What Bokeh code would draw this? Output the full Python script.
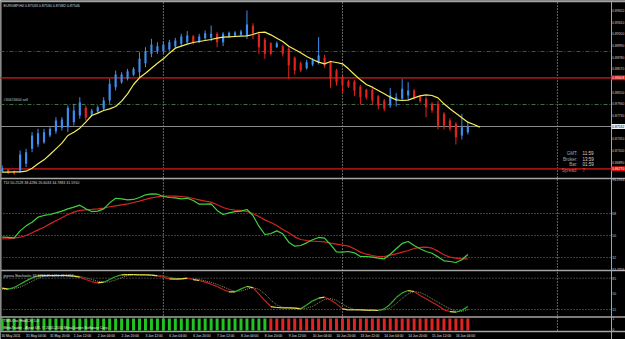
from bokeh.plotting import figure
from bokeh.models import Range1d, ColumnDataSource
from bokeh.core.properties import value
from bokeh.embed import file_html
from bokeh.resources import INLINE

# ---------------- data ----------------
open_ = [0.86728, 0.86758, 0.86722, 0.86740, 0.86860, 0.87130, 0.87208, 0.87250, 0.87370, 0.87448,
         0.87508, 0.87520, 0.87610, 0.87730, 0.87868, 0.87742, 0.87802, 0.87850, 0.88000, 0.88240,
         0.88330, 0.88390, 0.88462, 0.88510, 0.88672, 0.88840, 0.88888, 0.88888, 0.88918, 0.88972,
         0.89020, 0.89050, 0.89158, 0.89062, 0.89122, 0.89128, 0.89200, 0.89050, 0.89152, 0.89164,
         0.89182, 0.89170, 0.89344, 0.89200, 0.89092, 0.89032, 0.88960, 0.88972, 0.88930, 0.88768,
         0.88672, 0.88582, 0.88648, 0.88678, 0.88768, 0.88690, 0.88540, 0.88420, 0.88348, 0.88342,
         0.88252, 0.88192, 0.88192, 0.88078, 0.88000, 0.87910, 0.88000, 0.88030, 0.88090, 0.88180,
         0.88072, 0.88030, 0.87940, 0.87940, 0.87760, 0.87640, 0.87580, 0.87370, 0.87430]
high = [0.86830, 0.86764, 0.86740, 0.87100, 0.87130, 0.87430, 0.87490, 0.87490, 0.87520, 0.87700,
        0.87700, 0.87910, 0.87940, 0.88060, 0.87910, 0.87850, 0.87910, 0.88060, 0.88390, 0.88540,
        0.88510, 0.88570, 0.88600, 0.88870, 0.88960, 0.89110, 0.89050, 0.89068, 0.89092, 0.89128,
        0.89200, 0.89248, 0.89182, 0.89200, 0.89260, 0.89350, 0.89230, 0.89230, 0.89242, 0.89248,
        0.89272, 0.89620, 0.89392, 0.89242, 0.89128, 0.89050, 0.89062, 0.89002, 0.88972, 0.88792,
        0.88702, 0.88732, 0.88762, 0.89140, 0.88822, 0.88720, 0.88570, 0.88450, 0.88372, 0.88372,
        0.88282, 0.88210, 0.88222, 0.88102, 0.88030, 0.88222, 0.88132, 0.88390, 0.88330, 0.88210,
        0.88102, 0.88072, 0.87970, 0.88000, 0.87790, 0.87682, 0.87610, 0.87760, 0.87610]
low = [0.86704, 0.86674, 0.86662, 0.86698, 0.86800, 0.87070, 0.87160, 0.87220, 0.87340, 0.87400,
       0.87460, 0.87430, 0.87550, 0.87670, 0.87640, 0.87718, 0.87778, 0.87820, 0.87940, 0.88180,
       0.88300, 0.88360, 0.88438, 0.88420, 0.88600, 0.88780, 0.88840, 0.88840, 0.88888, 0.88942,
       0.88972, 0.89020, 0.89008, 0.89032, 0.89092, 0.89068, 0.88960, 0.88978, 0.89128, 0.89140,
       0.89164, 0.89110, 0.89104, 0.88840, 0.88750, 0.88810, 0.88948, 0.88792, 0.88390, 0.88468,
       0.88510, 0.88558, 0.88618, 0.88648, 0.88588, 0.88228, 0.88270, 0.88138, 0.88228, 0.88078,
       0.87928, 0.88018, 0.87928, 0.87838, 0.87808, 0.87868, 0.87892, 0.88000, 0.88018, 0.88018,
       0.87958, 0.87700, 0.87778, 0.87478, 0.87478, 0.87448, 0.87208, 0.87298, 0.87388]
close = [0.86782, 0.86704, 0.86686, 0.87028, 0.87070, 0.87370, 0.87412, 0.87430, 0.87490, 0.87640,
         0.87658, 0.87868, 0.87820, 0.87970, 0.87688, 0.87820, 0.87880, 0.88000, 0.88300, 0.88468,
         0.88468, 0.88528, 0.88570, 0.88750, 0.88888, 0.89008, 0.88978, 0.89002, 0.89050, 0.89080,
         0.89152, 0.89170, 0.89038, 0.89152, 0.89212, 0.89200, 0.89050, 0.89200, 0.89218, 0.89224,
         0.89242, 0.89368, 0.89200, 0.88960, 0.88840, 0.88840, 0.89032, 0.88840, 0.88630, 0.88540,
         0.88540, 0.88690, 0.88720, 0.88810, 0.88630, 0.88390, 0.88330, 0.88270, 0.88252, 0.88180,
         0.88060, 0.88060, 0.88000, 0.87910, 0.87850, 0.88090, 0.88060, 0.88210, 0.88180, 0.88060,
         0.87988, 0.87880, 0.87820, 0.87550, 0.87550, 0.87490, 0.87340, 0.87520, 0.87532]
# moving average (shifted two bars forward)
ma = [0.86710, 0.86710, 0.86716, 0.86716, 0.86728, 0.86782, 0.86860, 0.86932, 0.87028, 0.87130,
      0.87232, 0.87370, 0.87430, 0.87502, 0.87610, 0.87730, 0.87772, 0.87820, 0.87850, 0.87892,
      0.87988, 0.88120, 0.88288, 0.88408, 0.88492, 0.88582, 0.88672, 0.88750, 0.88852, 0.88942,
      0.88978, 0.89014, 0.89044, 0.89062, 0.89080, 0.89098, 0.89122, 0.89140, 0.89146, 0.89152,
      0.89158, 0.89164, 0.89188, 0.89224, 0.89230, 0.89182, 0.89122, 0.89062, 0.88978, 0.88918,
      0.88858, 0.88792, 0.88738, 0.88690, 0.88660, 0.88702, 0.88684, 0.88660, 0.88570, 0.88468,
      0.88372, 0.88288, 0.88240, 0.88180, 0.88120, 0.88060, 0.88012, 0.88000, 0.88006, 0.88048,
      0.88084, 0.88102, 0.88090, 0.88048, 0.87940, 0.87850, 0.87772, 0.87688, 0.87610, 0.87568,
      0.87520]
tdi_green = [48.6, 48.4, 48.1, 53.8, 57.9, 60.9, 65.0, 66.4, 67.2, 68.5,
             69.9, 71.8, 73.2, 74.8, 71.8, 69.6, 69.9, 71.8, 76.7, 80.5,
             80.0, 79.2, 79.5, 81.1, 83.3, 84.1, 83.8, 81.9, 81.1, 80.8,
             80.0, 80.5, 78.6, 75.6, 75.6, 75.9, 70.5, 67.2, 68.5, 69.6,
             69.9, 71.3, 66.4, 57.6, 50.8, 51.6, 53.8, 51.4, 44.5, 41.3,
             41.8, 44.0, 46.5, 48.4, 47.8, 42.5, 36.6, 36.4, 36.9, 35.8,
             32.8, 32.8, 32.3, 31.5, 30.9, 34.7, 39.1, 43.5, 45.1, 41.8,
             39.1, 36.9, 35.5, 32.5, 29.3, 28.7, 27.9, 30.1, 34.5]
tdi_red = [47.3, 47.5, 47.8, 48.6, 50.0, 52.2, 54.6, 56.8, 59.5, 62.0,
           64.5, 67.2, 69.1, 70.5, 71.0, 71.3, 71.8, 72.4, 73.5, 74.3,
           75.1, 75.9, 77.0, 78.1, 79.5, 80.8, 81.6, 82.2, 82.2, 82.2,
           81.9, 81.4, 80.3, 79.2, 78.1, 77.3, 75.1, 72.9, 71.5, 70.7,
           70.5, 69.6, 68.0, 65.5, 62.8, 60.6, 58.2, 54.9, 52.2, 48.9,
           46.7, 45.9, 45.4, 45.1, 44.8, 43.7, 42.9, 42.1, 41.3, 39.1,
           36.4, 34.7, 33.6, 32.8, 32.8, 33.9, 35.0, 36.4, 37.7, 39.4,
           40.2, 40.5, 39.6, 37.2, 34.2, 32.3, 31.5, 30.9, 30.9]
stoch_main = [62.6, 60.4, 64.1, 71.6, 79.0, 85.7, 90.2, 91.0, 91.0, 91.0,
              91.0, 91.0, 89.5, 87.2, 82.0, 77.5, 74.6, 76.1, 82.0, 88.7,
              92.5, 93.2, 93.2, 92.5, 92.5, 91.7, 90.2, 87.2, 83.5, 82.8,
              83.5, 85.0, 82.0, 79.8, 76.1, 71.6, 66.4, 59.6, 54.4, 54.4,
              61.1, 66.4, 64.1, 50.0, 35.0, 21.6, 19.4, 18.6, 18.6, 17.9,
              16.4, 25.3, 34.3, 40.3, 42.5, 36.5, 27.6, 16.4, 14.2, 14.2,
              14.2, 13.4, 13.4, 12.7, 16.4, 26.8, 41.7, 52.2, 57.4, 55.2,
              46.2, 38.8, 31.3, 23.9, 14.2, 10.4, 8.9, 13.4, 21.6]
stoch_signal = [60.0, 61.0, 62.0, 65.0, 71.0, 78.0, 85.0, 89.0, 90.5, 91.0,
                91.0, 91.0, 90.5, 89.0, 86.0, 82.0, 78.0, 76.0, 77.0, 81.0,
                86.0, 91.0, 93.0, 93.0, 92.8, 92.3, 91.5, 90.0, 87.0, 84.5,
                83.3, 83.7, 83.5, 82.0, 79.0, 75.5, 71.0, 66.0, 60.0, 56.0,
                56.5, 60.5, 64.0, 60.0, 50.0, 36.0, 25.0, 20.0, 19.0, 18.5,
                17.5, 18.0, 22.0, 30.0, 37.5, 39.5, 35.5, 27.0, 19.5, 15.0,
                14.2, 13.9, 13.6, 13.2, 14.0, 18.5, 28.0, 40.0, 50.0, 55.0,
                53.0, 47.0, 39.0, 31.5, 23.5, 16.5, 11.2, 10.8, 14.5]
tms_dir = [1, 1, 1, 1, 1, 1, 1, 1, 1, 1, 1, 1, 1, 1, 1, 1, 1, 1, 1, 1,
           1, 1, 1, 1, 1, 1, 1, 1, 1, 1, 1, 1, 1, 1, 1, 1, 1, 1, 1, 1,
           1, 1, 1, 1, 1, -1, -1, -1, -1, -1, -1, -1, -1, -1, -1, -1, -1, -1, -1, -1,
           -1, -1, -1, -1, -1, -1, -1, -1, -1, -1, -1, -1, -1, -1, -1, -1, -1, -1, -1]
date_bars = [4, 8, 12, 16, 20, 24, 28, 32, 36, 40, 44, 48, 52, 56, 60, 64, 68, 72, 76]
date_labels = ["31 May 04:00", "31 May 20:00", "1 Jun 12:00", "2 Jun 04:00", "2 Jun 20:00",
               "3 Jun 12:00", "6 Jun 04:00", "6 Jun 20:00", "7 Jun 12:00", "8 Jun 04:00",
               "8 Jun 20:00", "9 Jun 12:00", "10 Jun 04:00", "10 Jun 20:00", "13 Jun 12:00",
               "14 Jun 04:00", "14 Jun 20:00", "15 Jun 12:00", "16 Jun 04:00"]
first_date = "30 May 2011"
separator_bars = [27, 57, 93]
price_ticks = [0.89620, 0.89410, 0.89200, 0.88990, 0.88780, 0.88570, 0.88150,
               0.87940, 0.87730, 0.87310, 0.87100, 0.86890]
level_brown = 0.88882
level_red_hi = 0.88408
level_green = 0.87928
level_red_lo = 0.86770
bid = 0.87532
tdi_levels = [68, 50, 32]
stoch_levels = [85, 15]

FONT = value("Liberation Sans")
n = len(open_)
bars = list(range(n))

p = figure(width=625, height=339, output_backend="svg", toolbar_location=None, title=None,
           x_range=Range1d(-0.285, 104.41), y_range=Range1d(339, 0),
           x_axis_location=None, y_axis_location=None, min_border=0,
           background_fill_color="black", border_fill_color="black", outline_line_color=None)
p.xgrid.visible = False
p.ygrid.visible = False
p.extra_x_ranges = {"px": Range1d(0, 625)}
p.extra_y_ranges = {"price": Range1d(0.83698, 0.898),
                    "tdi": Range1d(-35.11, 242.31),
                    "stoch": Range1d(-52.14, 706.25),
                    "tms": Range1d(-0.75, 27.5)}

GRAY = "#A4A4A4"
AX_FS = "3.3px"
TX_FS = "3.6px"

# ---- frame / separators (pixel layout) ----
p.segment(x0=[0, 0, 0, 0, 0], x1=[625, 625, 625, 625, 625], y0=[1, 178, 270, 316.5, 331],
          y1=[1, 178, 270, 316.5, 331], x_range_name="px", line_color=GRAY, line_width=1.5)
p.segment(x0=[0.5, 611], x1=[0.5, 611], y0=[1, 0], y1=[331, 339], x_range_name="px",
          line_color=GRAY, line_width=1)

# weekly separators
p.segment(x0=separator_bars, x1=separator_bars, y0=2, y1=331, line_color="#C8C8C8",
          line_dash="1 2", line_width=1)

# ---- horizontal levels in main panel ----
p.segment(x0=0, x1=611, y0=level_brown, y1=level_brown, x_range_name="px", y_range_name="price",
          line_color="#8E2E2E", line_dash="4 2 1 2", line_width=1)
p.segment(x0=0, x1=611, y0=level_green, y1=level_green, x_range_name="px", y_range_name="price",
          line_color="#3F6E3F", line_dash="4 2 1 2", line_width=1)
p.segment(x0=[0, 0], x1=[611, 611], y0=[level_red_hi, level_red_lo], y1=[level_red_hi, level_red_lo],
          x_range_name="px", y_range_name="price", line_color="#9A1414", line_width=1.6)
p.segment(x0=0, x1=611, y0=bid, y1=bid, x_range_name="px", y_range_name="price",
          line_color="#8A8A8A", line_width=1)

# ---- candles ----
BLUE = "#3D8EF0"
RED = "#E0231F"
cols = [BLUE if c >= o else RED for o, c in zip(open_, close)]
src = ColumnDataSource(dict(x=bars, o=open_, h=high, l=low, c=close,
                            top=[max(o, c) for o, c in zip(open_, close)],
                            bot=[min(o, c) for o, c in zip(open_, close)], col=cols))
p.segment(x0="x", x1="x", y0="l", y1="h", source=src, line_color="col", line_width=1,
          y_range_name="price")
p.vbar(x="x", width=0.36, top="top", bottom="bot", source=src, fill_color="col",
       line_color=None, y_range_name="price")

# moving average
p.line(x=list(range(len(ma))), y=ma, line_color="#F4EE5C", line_width=1.2, y_range_name="price")

# ---- price scale ----
p.text(x=[611.8] * len(price_ticks), y=price_ticks, text=[f"{t:.5f}" for t in price_ticks],
       x_range_name="px", y_range_name="price", text_font=FONT, text_font_size=AX_FS,
       text_color="#D0D0D0", text_baseline="middle", text_align="left")
p.rect(x=[618, 618, 618], y=[level_red_hi, bid, level_red_lo], width=14, height=5,
       height_units="screen", x_range_name="px", y_range_name="price",
       fill_color=["#D01010", "#F2F2F2", "#D01010"], line_color=None)
p.text(x=[611.8, 611.8, 611.8], y=[level_red_hi, bid, level_red_lo],
       text=[f"{level_red_hi:.5f}", f"{bid:.5f}", f"{level_red_lo:.5f}"],
       x_range_name="px", y_range_name="price", text_font=FONT, text_font_size=AX_FS,
       text_color=["#FFFFFF", "#000000", "#FFFFFF"], text_baseline="middle", text_align="left")

# ---- texts in main panel ----
p.text(x=[3], y=[5], text=["EURGBP,H4  0.87533 0.87530 0.87482 0.87546"], x_range_name="px",
       text_font=FONT, text_font_size=TX_FS, text_color="#DADADA", text_baseline="middle")
p.text(x=[3], y=[99.5], text=["#30674604 sell"], x_range_name="px",
       text_font=FONT, text_font_size=TX_FS, text_color="#C8C8C8", text_baseline="middle")
p.text(x=[577] * 4, y=[153, 158.5, 164, 169.5], text=["GMT:", "Broker:", "Bar:", "Spread:"],
       x_range_name="px", text_font=FONT, text_font_size="4.5px",
       text_color=["#A8A8A8", "#A8A8A8", "#A8A8A8", "#D86A6A"], text_baseline="middle",
       text_align="right")
p.text(x=[582] * 4, y=[153, 158.5, 164, 169.5], text=["11:59", "13:59", "01:59", "7"],
       x_range_name="px", text_font=FONT, text_font_size="4.5px",
       text_color=["#D8D8D8", "#D8D8D8", "#D8D8D8", "#FF4A4A"], text_baseline="middle",
       text_align="left")

# ---- TDI panel ----
p.segment(x0=[0] * 3, x1=[611] * 3, y0=tdi_levels, y1=tdi_levels, x_range_name="px",
          y_range_name="tdi", line_color="#7A7A7A", line_dash="1 2", line_width=1)
p.line(x=bars, y=tdi_red, line_color="#D42424", line_width=1.2, y_range_name="tdi")
p.line(x=bars, y=tdi_green, line_color="#3FD23F", line_width=1.2, y_range_name="tdi")
p.text(x=[3], y=[182], text=["TDI 50.2528 38.4286 26.6033 34.7883 31.5910"], x_range_name="px",
       text_font=FONT, text_font_size=TX_FS, text_color="#DADADA", text_baseline="middle")
p.text(x=[611.8] * 5, y=[95.5, 68, 50, 32, 22.5], text=["96.2916", "68", "50", "32", "21.7756"],
       x_range_name="px", y_range_name="tdi", text_font=FONT, text_font_size=AX_FS,
       text_color="#D0D0D0", text_baseline="middle", text_align="left")

# ---- Stochastic panel ----
p.segment(x0=[0] * 2, x1=[611] * 2, y0=stoch_levels, y1=stoch_levels, x_range_name="px",
          y_range_name="stoch", line_color="#7A7A7A", line_dash="1 2", line_width=1)
p.line(x=bars, y=stoch_signal, line_color="#8E8E62", line_dash="1 1", line_width=1,
       y_range_name="stoch")
seg_col = []
for a, b in zip(stoch_main[:-1], stoch_main[1:]):
    d = b - a
    seg_col.append("#E6E04A" if abs(d) < 2.5 else ("#2FB52F" if d > 0 else "#C42222"))
p.segment(x0=bars[:-1], x1=bars[1:], y0=stoch_main[:-1], y1=stoch_main[1:],
          line_color=seg_col, line_width=1.2, y_range_name="stoch")
p.text(x=[3], y=[275.5], text=["jpyusa Stochastic  34.6763 29.6490 22.5452"], x_range_name="px",
       text_font=FONT, text_font_size=TX_FS, text_color="#DADADA", text_baseline="middle")
p.text(x=[611.8] * 3, y=[85, 50, 15], text=["85", "50", "15"],
       x_range_name="px", y_range_name="stoch", text_font=FONT, text_font_size=AX_FS,
       text_color="#D0D0D0", text_baseline="middle", text_align="left")

# ---- TMS histogram ----
p.vbar(x=bars, width=0.5, bottom=0, top=[abs(v) for v in tms_dir],
       fill_color=["#22C322" if v > 0 else "#E02424" for v in tms_dir], line_color=None,
       y_range_name="tms")
p.text(x=[3, 3], y=[320.5, 327.5],
       text=["TMS-Osc Hist(Ch) 1.0", "MetaTrader - Alpari UK, \u00a9 2001-2010 MetaQuotes Software Corp."],
       x_range_name="px", text_font=FONT, text_font_size=TX_FS, text_color="#F0F0F0",
       text_baseline="middle")
p.text(x=[612, 612], y=[1, 0.1], text=["1", "0"], x_range_name="px", y_range_name="tms",
       text_font=FONT, text_font_size=AX_FS, text_color="#D0D0D0", text_baseline="middle")

# ---- date scale ----
p.text(x=[1], y=[335], text=[first_date], x_range_name="px", text_font=FONT,
       text_font_size=AX_FS, text_color="#E0E0E0", text_baseline="middle")
p.text(x=date_bars, y=[335] * len(date_bars), text=date_labels, text_font=FONT,
       text_font_size=AX_FS, text_color="#E0E0E0", text_baseline="middle", text_align="left")

open("out.html", "w").write(file_html(p, INLINE))
